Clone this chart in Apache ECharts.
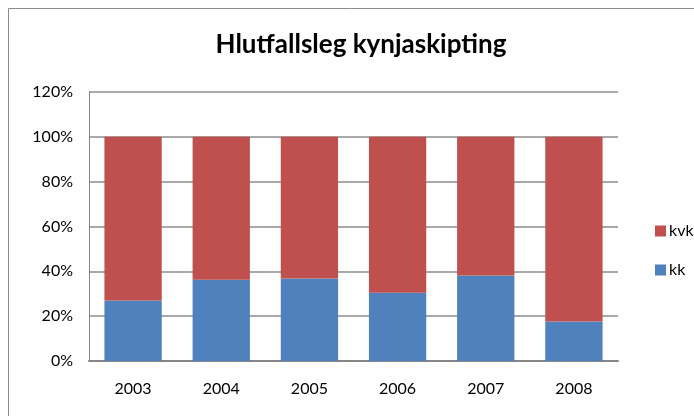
<!DOCTYPE html>
<html>
<head>
<meta charset="utf-8">
<script src="https://cdn.jsdelivr.net/npm/echarts@6/dist/echarts.min.js"></script>
<style>
  html, body { margin: 0; padding: 0; background: #fff; }
  #chart { width: 694px; height: 416px; }
</style>
</head>
<body>
<div id="chart"></div>
<script>
// Data
const years = ["2003", "2004", "2005", "2006", "2007", "2008"];
const kk = [27.0, 36.2, 36.8, 30.5, 38.1, 17.6];
const kvk = [73.0, 63.8, 63.2, 69.5, 61.9, 82.4];
const yTicks = [0, 20, 40, 60, 80, 100, 120];

const chart = echarts.init(document.getElementById("chart"));
const option = {
  animation: false,
  backgroundColor: "#fff",
  textStyle: { fontFamily: "Lato, 'Open Sans', sans-serif" },
  graphic: [
    {
      type: "rect",
      shape: { x: 8.5, y: 8.5, width: 700, height: 420 },
      style: { fill: "none", stroke: "#8c8c8c", lineWidth: 1 },
      silent: true,
    },
  ],
  title: {
    text: "Hlutfallsleg kynjaskipting",
    left: 356,
    textAlign: "center",
    top: 27,
    textStyle: {
      fontFamily: "Lato, 'Open Sans', sans-serif",
      fontSize: 26,
      fontWeight: "bold",
      color: "#000",
    },
  },
  legend: {
    orient: "vertical",
    left: 650,
    top: 218,
    itemWidth: 11,
    itemHeight: 11,
    itemGap: 23,
    icon: "rect",
    data: ["kvk", "kk"],
    textStyle: { fontSize: 16, color: "#000", padding: [0, 0, 0, -2] },
  },
  grid: { left: 89, right: 76, top: 92, bottom: 55 },
  xAxis: {
    type: "category",
    data: years,
    axisLine: { lineStyle: { color: "#868686", width: 2 } },
    axisTick: { show: false },
    axisLabel: { color: "#000", fontSize: 16, margin: 20 },
  },
  yAxis: {
    type: "value",
    min: yTicks[0],
    max: yTicks[yTicks.length - 1],
    interval: 20,
    axisLine: { show: true, lineStyle: { color: "#868686", width: 1 } },
    axisTick: { show: false },
    axisLabel: {
      color: "#000",
      fontSize: 16,
      margin: 16,
      formatter: "{value}%",
    },
    splitLine: { lineStyle: { color: "#8c8c8c", width: 1.5 } },
  },
  series: [
    {
      name: "kk",
      type: "bar",
      stack: "total",
      barCategoryGap: "35%",
      itemStyle: { color: "#4F81BD" },
      data: kk,
    },
    {
      name: "kvk",
      type: "bar",
      stack: "total",
      barCategoryGap: "35%",
      itemStyle: { color: "#C0504D" },
      data: kvk,
    },
  ],
};
chart.setOption(option);
</script>
</body>
</html>
